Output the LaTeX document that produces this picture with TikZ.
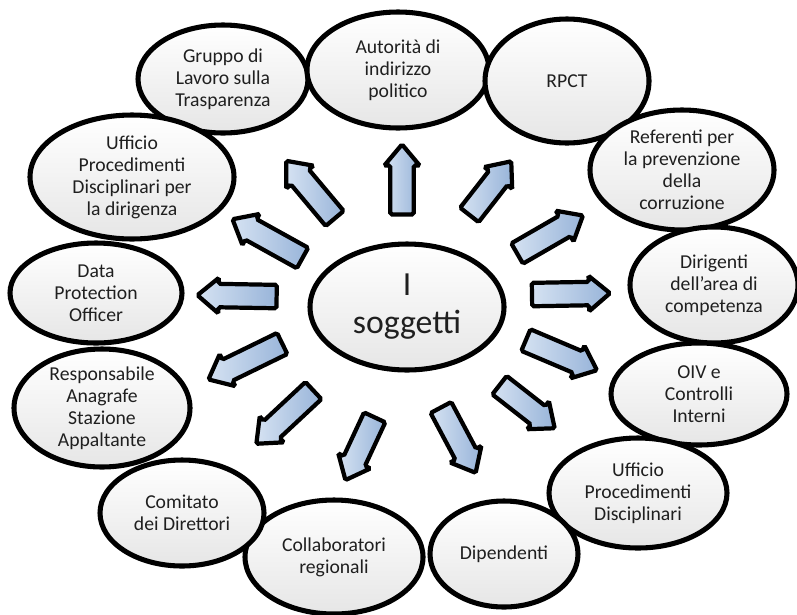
\documentclass[tikz,border=0pt]{standalone}
\usepackage{fontspec}
\setmainfont{Carlito}
\usepackage{xcolor}
\usepackage{tikz}
\usetikzlibrary{shapes.geometric, shapes.arrows}
\definecolor{testo}{HTML}{1F1F1F}
\definecolor{ellBordo}{HTML}{000000}
\definecolor{ellFondo}{HTML}{E6E6E6}
\definecolor{frcChiaro}{HTML}{D5E2F2}
\definecolor{frcScuro}{HTML}{98B4D9}

\begin{document}
\begin{tikzpicture}[sogg/.style={ellipse, draw=ellBordo, line width=3.6pt, inner sep=0pt, align=center, text=testo, font=\fontsize{14}{15.6}\selectfont, top color=white, middle color=white, bottom color=ellFondo},frc/.style={single arrow, draw=black, line width=3pt, rounded corners=1.2pt, inner sep=0.24cm, single arrow head extend=0.15cm, single arrow tip angle=80, left color=frcChiaro, right color=frcScuro}]
\useasboundingbox (0,0) rectangle (19.925,-15.35);
% soggetti intorno
\node[sogg, minimum width=4.25cm, minimum height=2.7cm] (gruppo) at (5.575,-1.975) {Gruppo di\\Lavoro sulla\\Trasparenza};
\node[sogg, minimum width=4.55cm, minimum height=2.9cm] (autorita) at (9.95,-1.75) {Autorità di\\indirizzo\\politico};
\node[sogg, minimum width=4.1cm, minimum height=3.1cm] (rpct) at (14.175,-2.025) {RPCT};
\node[sogg, minimum width=4.6cm, minimum height=3.0cm] (referenti) at (17.05,-4.25) {Referenti per\\la prevenzione\\della\\corruzione};
\node[sogg, minimum width=4.2cm, minimum height=2.9cm] (dirigenti) at (17.85,-7.125) {Dirigenti\\dell’area di\\competenza};
\node[sogg, minimum width=4.4cm, minimum height=2.55cm] (oiv) at (17.475,-9.85) {OIV e\\Controlli\\Interni};
\node[sogg, minimum width=4.45cm, minimum height=2.75cm] (upd) at (15.95,-12.325) {Ufficio\\Procedimenti\\Disciplinari};
\node[sogg, minimum width=3.7cm, minimum height=2.65cm] (dipendenti) at (12.6,-13.85) {Dipendenti};
\node[sogg, minimum width=4.45cm, minimum height=2.85cm] (collab) at (8.35,-13.925) {Collaboratori\\regionali};
\node[sogg, minimum width=4.1cm, minimum height=2.65cm] (comitato) at (4.55,-12.825) {Comitato\\dei Direttori};
\node[sogg, minimum width=4.4cm, minimum height=2.95cm] (rasa) at (2.55,-10.2) {Responsabile\\Anagrafe\\Stazione\\Appaltante};
\node[sogg, minimum width=4.3cm, minimum height=2.5cm] (dpo) at (2.4,-7.325) {Data\\Protection\\Officer};
\node[sogg, minimum width=5.1cm, minimum height=3.1cm] (upddir) at (3.3,-4.425) {Ufficio\\Procedimenti\\Disciplinari per\\la dirigenza};
% centro
\node[sogg, minimum width=4.85cm, minimum height=3.15cm, font=\fontsize{24}{27}\selectfont] (centro) at (10.175,-7.675) {I\\soggetti};
% frecce
\node[frc, minimum height=1.75cm, rotate=90] (f1) at (10.05,-4.66) {};
\node[frc, minimum height=1.7cm, rotate=52] (f2) at (12.15,-4.84) {};
\node[frc, minimum height=1.9cm, rotate=30] (f3) at (13.6,-5.95) {};
\node[frc, minimum height=1.95cm, rotate=1] (f4) at (14.1,-7.35) {};
\node[frc, minimum height=1.93cm, rotate=-23] (f5) at (13.875,-8.81) {};
\node[frc, minimum height=1.75cm, rotate=-38] (f6) at (13.04,-10.06) {};
\node[frc, minimum height=1.85cm, rotate=-62] (f7) at (11.375,-10.85) {};
\node[frc, minimum height=1.73cm, rotate=-115] (f8) at (9.075,-11.06) {};
\node[frc, minimum height=1.95cm, rotate=-137] (f9) at (7.25,-10.31) {};
\node[frc, minimum height=2.05cm, rotate=-154] (f10) at (6.29,-8.96) {};
\node[frc, minimum height=1.98cm, rotate=179] (f11) at (6.1,-7.4) {};
\node[frc, minimum height=2.0cm, rotate=151] (f12) at (6.84,-6.05) {};
\node[frc, minimum height=1.88cm, rotate=130] (f13) at (7.875,-4.875) {};
\end{tikzpicture}
\end{document}
